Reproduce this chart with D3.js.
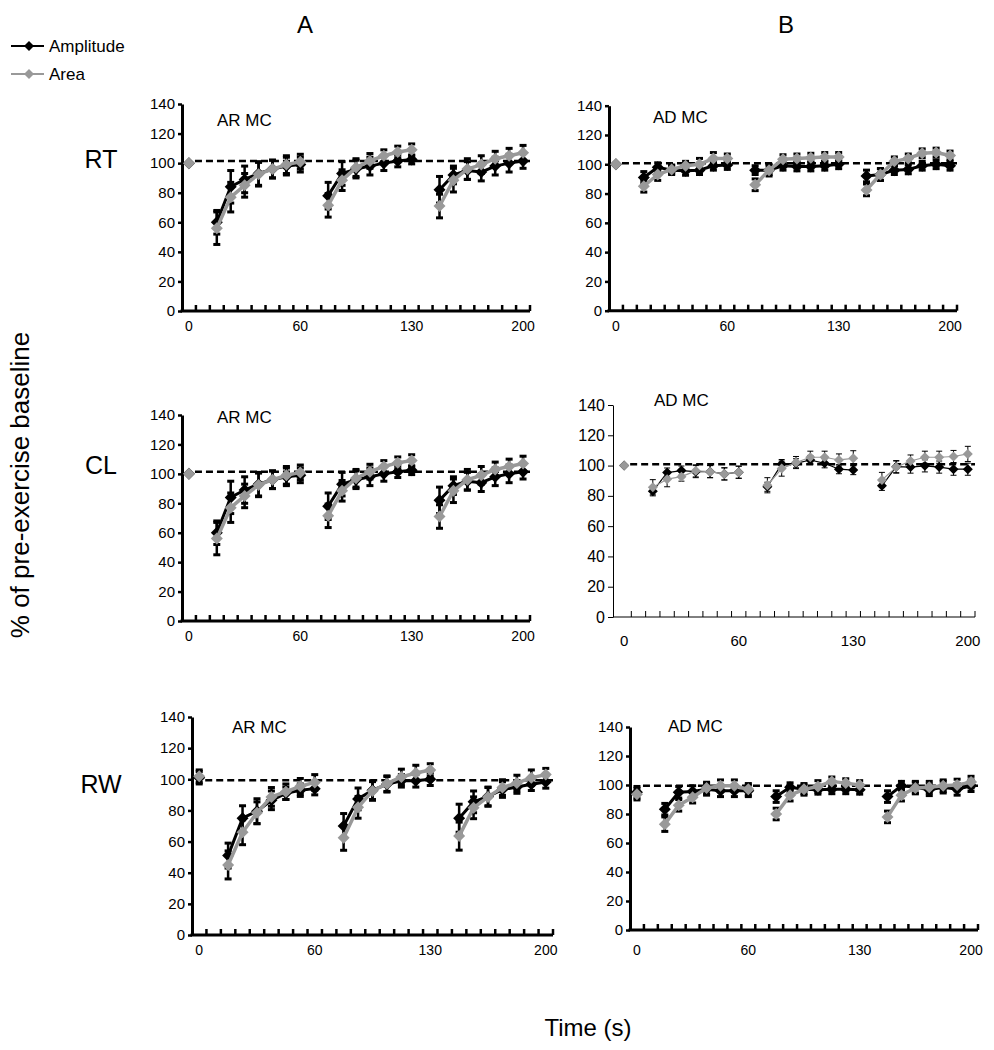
<!DOCTYPE html>
<html><head><meta charset="utf-8">
<script src="https://cdn.jsdelivr.net/npm/d3@7"></script>
<style>body{margin:0;background:#fff} svg{display:block} text{font-family:"Liberation Sans",Arial,sans-serif;fill:#000}</style>
</head><body><svg id="c" width="994" height="1050"></svg>
<script>
// ---------- data ----------
const timeLabels = ["0","","","","","","","","60","","","","","","","","130","","","","","","","","200"];
const yTicks = [0,20,40,60,80,100,120,140];
const seriesNames = ["Amplitude","Area"];
const panelTitles = ["AR MC","AD MC","AR MC","AD MC","AR MC","AD MC"];
const rowLabels = ["RT","CL","RW"];
const colLabels = ["A","B"];
const baselineRef = [101.5, 100.7, 101.5, 100.9, 99.4, 99.5];

// RT – AR MC
const rtArAmp     = [100,null, 60,84,89,93,96,98,99, null, 78,93,96,98,100,101.5,102.5, null, 82,92,95,94,98,100,101.5];
const rtArAmpErr  = [0,null, 8,11,9,8,6,6,5, null, 9,8,6,6,5,4,3, null, 9,6,6,6,6,6,5];
const rtArArea    = [100,null, 56,77,85,92.5,96,99,101, null, 71.5,88.5,97,101.5,105,107.5,109, null, 71,88.5,96,99,103,105,107];
const rtArAreaErr = [0,null, 11,10,8,8,6,6,5, null, 8,7,6,5,4,4,4, null, 8,8,7,6,5,5,5];
// RT – AD MC
const rtAdAmp     = [100,null, 91,98,96,95.5,96,99,99.5, null, 96,96,99,98.5,98.5,99,100, null, 92,93,96,96.5,99,100,99];
const rtAdAmpErr  = [0,null, 4,3,3,3,3,3,3, null, 3,3,3,3,3,3,3, null, 4,4,3,3,3,3,3];
const rtAdArea    = [100,null, 85,93,96.5,99,100,104,104, null, 86,96,103.5,104,104.5,105,105, null, 82.5,93,102,104,107.5,108,106];
const rtAdAreaErr = [0,null, 4,4,3,3,4,4,3, null, 4,4,3,3,3,3,3, null, 4,4,3,3,3,3,3];
// CL – AR MC
const clArAmp     = [100,null, 60,84,89,93,96,98,99, null, 78,93,96,98,100,101.5,102.5, null, 82,92,95,94,98,100,101.5];
const clArAmpErr  = [0,null, 8,11,9,8,6,6,5, null, 9,8,6,6,5,4,3, null, 9,6,6,6,6,6,5];
const clArArea    = [100,null, 56,77,85,92.5,96,99,101, null, 71.5,88.5,97,101.5,105,107.5,109, null, 71,88.5,96,99,103,105,107];
const clArAreaErr = [0,null, 11,10,8,8,6,6,5, null, 8,7,6,5,4,4,4, null, 8,8,7,6,5,5,5];
// CL – AD MC
const clAdAmp     = [100,null, 83,95.4,96.7,96,96,94.5,95.6, null, 86,101,101.5,103.7,101.5,97.6,97, null, 86.6,99.3,99,99.8,99,97.6,97.6];
const clAdAmpErr  = [0,null, 3,3,3,4,4,4,4, null, 3,3,3,3,3,3,3, null, 3,4,4,4,4,4,4];
const clAdArea    = [100,null, 85.7,91,92.7,96.5,96,94.5,95.6, null, 87,98,102,105.5,105.5,103.7,104.8, null, 90.5,99,103,105.5,105.5,106,107.7];
const clAdAreaErr = [0,null, 5,5,3,4,4,4,4, null, 5,5,4,4,4,4,5, null, 5,4,4,4,4,4,5];
// RW – AR MC
const rwArAmp     = [101,null, 51,75,79.5,86.5,91,93,94, null, 70,87.4,93,96.8,99,99,100, null, 75,85.5,89,93.4,95,96.8,98.3];
const rwArAmpErr  = [4,null, 8,8,8,6,4,4,4, null, 8,7,6,5,4,4,4, null, 9,7,6,5,4,4,4];
const rwArArea    = [102,null, 45,66,78.5,88.7,92,95.5,98, null, 62.4,82,92.5,97.2,101.5,104,106, null, 63.5,81.7,88.7,94.7,97.6,101,103];
const rwArAreaErr = [4,null, 9,8,7,6,5,5,5, null, 8,7,6,5,5,5,4, null, 9,7,6,5,5,5,4];
// RW – AD MC
const rwAdAmp     = [95,null, 83.3,95,95.5,97,96,96,96, null, 92,98.5,97,96.7,97,97,96.7, null, 92,99.5,98.5,96.7,98.5,97,99.5];
const rwAdAmpErr  = [4,null, 4,4,4,4,4,4,4, null, 4,3,3,3,3,3,3, null, 4,3,4,4,4,4,4];
const rwAdArea    = [93.7,null, 73,86,91.6,97.9,99.5,99.5,97, null, 80,93,97,99,102.5,101.3,100, null, 78,93,97.9,98.5,99.5,100,102];
const rwAdAreaErr = [4,null, 5,4,4,4,4,4,4, null, 4,4,4,4,3,3,3, null, 4,4,4,4,4,4,4];

const panelData = [
  [rtArAmp, rtArAmpErr, rtArArea, rtArAreaErr],
  [rtAdAmp, rtAdAmpErr, rtAdArea, rtAdAreaErr],
  [clArAmp, clArAmpErr, clArArea, clArAreaErr],
  [clAdAmp, clAdAmpErr, clAdArea, clAdAreaErr],
  [rwArAmp, rwArAmpErr, rwArArea, rwArAreaErr],
  [rwAdAmp, rwAdAmpErr, rwAdArea, rwAdAreaErr]
];

// ---------- layout ----------
const layout = [
  {left:182, bandLeft:182, right:530, top:104, bottom:311, thin:false, tx:217, ty:126, lab:21},
  {left:609, bandLeft:609, right:957, top:105.7, bottom:310.7, thin:false, tx:653, ty:123, lab:21},
  {left:182, bandLeft:182, right:530, top:415, bottom:621, thin:false, tx:217, ty:423, lab:21},
  {left:613, bandLeft:617, right:975, top:405, bottom:617, thin:true, tx:654, ty:406, lab:29},
  {left:192, bandLeft:192, right:553, top:717, bottom:935, thin:false, tx:232, ty:733, lab:21},
  {left:630, bandLeft:630, right:978, top:727, bottom:930, thin:false, tx:668, ty:732, lab:26}
];
const BLACK = "#000", GREY = "#999";

const svg = d3.select("#c");

function diamond(r){ return `M0,${-r}L${r},0L0,${r}L${-r},0Z`; }

layout.forEach((L, p) => {
  const [amp, ampErr, area, areaErr] = panelData[p];
  const g = svg.append("g");
  const x = d3.scaleBand().domain(d3.range(timeLabels.length)).range([L.bandLeft, L.right]).padding(0);
  const y = d3.scaleLinear().domain([0, 140]).range([L.bottom, L.top]);
  const cx = i => x(i) + x.bandwidth() / 2;
  const axW = L.thin ? 1 : 3;

  // y axis
  const ya = g.append("g").attr("transform", `translate(${L.left},0)`)
    .call(d3.axisLeft(y).tickValues(yTicks).tickSize(L.thin ? 5 : 4).tickSizeOuter(0).tickPadding(3));
  ya.select(".domain").attr("stroke-width", axW).attr("stroke", "#000");
  ya.selectAll(".tick line").attr("stroke-width", L.thin ? 1 : 2.5).attr("stroke", "#000");
  ya.selectAll("text").attr("font-size", L.thin ? 16 : 15).attr("font-family", "Liberation Sans, Arial, sans-serif").attr("fill", "#000");

  // x axis line + ticks at band boundaries
  g.append("line").attr("x1", L.left - (L.thin ? 0 : 1.5)).attr("x2", L.right)
    .attr("y1", L.bottom).attr("y2", L.bottom).attr("stroke", "#000").attr("stroke-width", axW);
  const bounds = d3.range(1, timeLabels.length + 1).map(i => L.bandLeft + i * x.step());
  g.selectAll(".xt").data(bounds).join("line")
    .attr("x1", d => d).attr("x2", d => d)
    .attr("y1", L.bottom).attr("y2", L.bottom - 6)
    .attr("stroke", "#000").attr("stroke-width", L.thin ? 1 : 2.5);

  // x labels
  const xa = g.append("g").attr("transform", `translate(0,${L.bottom})`)
    .call(d3.axisBottom(x).tickValues(d3.range(timeLabels.length).filter(i => timeLabels[i] !== ""))
      .tickFormat(i => timeLabels[i]).tickSize(0).tickPadding(L.lab - 11));
  xa.select(".domain").remove();
  xa.selectAll("text").attr("font-size", L.thin ? 15 : 14).attr("font-family", "Liberation Sans, Arial, sans-serif").attr("fill", "#000");

  // dashed reference
  g.append("line").attr("x1", cx(0) + 6).attr("x2", L.right)
    .attr("y1", y(baselineRef[p])).attr("y2", y(baselineRef[p]))
    .attr("stroke", "#000").attr("stroke-width", 2.5).attr("stroke-dasharray", "7,4");

  // title
  g.append("text").attr("x", L.tx).attr("y", L.ty).attr("font-size", 17).text(panelTitles[p]);

  const series = [
    {vals: amp, err: ampErr, color: BLACK},
    {vals: area, err: areaErr, color: GREY}
  ];
  const line = d3.line().defined(d => d.v != null).x(d => cx(d.i)).y(d => y(d.v));
  const eW = L.thin ? 1 : 2.5, capW = L.thin ? 3 : 3.5;

  series.forEach((s, si) => {
    const pts = s.vals.map((v, i) => ({i, v, e: s.err[i]}));
    const withErr = pts.filter(d => d.v != null && d.e > 0);
    const eb = g.append("g");
    eb.selectAll(".ev").data(withErr).join("line")
      .attr("x1", d => cx(d.i)).attr("x2", d => cx(d.i))
      .attr("y1", d => y(d.v - d.e)).attr("y2", d => y(d.v + d.e))
      .attr("stroke", "#000").attr("stroke-width", eW);
    eb.selectAll(".cu").data(withErr).join("line")
      .attr("x1", d => cx(d.i) - capW).attr("x2", d => cx(d.i) + capW)
      .attr("y1", d => y(d.v + d.e)).attr("y2", d => y(d.v + d.e))
      .attr("stroke", "#000").attr("stroke-width", L.thin ? 1 : 3);
    eb.selectAll(".cd").data(withErr).join("line")
      .attr("x1", d => cx(d.i) - capW).attr("x2", d => cx(d.i) + capW)
      .attr("y1", d => y(d.v - d.e)).attr("y2", d => y(d.v - d.e))
      .attr("stroke", "#000").attr("stroke-width", L.thin ? 1 : 3);
    g.append("path").datum(pts).attr("d", line).attr("fill", "none")
      .attr("stroke", s.color).attr("stroke-width", L.thin ? 1.2 : (si ? 3.5 : 3))
      .attr("stroke-linejoin", "round");
    g.selectAll(".m" + si).data(pts.filter(d => d.v != null)).join("path")
      .attr("d", diamond(L.thin ? 5 : 6))
      .attr("transform", d => `translate(${cx(d.i)},${y(d.v)})`)
      .attr("fill", s.color);
  });
});

// column / row labels
[305, 786].forEach((xx, i) => svg.append("text").attr("x", xx).attr("y", 33).attr("text-anchor", "middle").attr("font-size", 24).text(colLabels[i]));
[168, 474, 793].forEach((yy, i) => svg.append("text").attr("x", 101).attr("y", yy).attr("text-anchor", "middle").attr("font-size", 25).text(rowLabels[i]));

// axis titles
svg.append("text").attr("transform", "translate(29,485) rotate(-90)").attr("text-anchor", "middle").attr("font-size", 26).text("% of pre-exercise baseline");
svg.append("text").attr("x", 588).attr("y", 1036).attr("text-anchor", "middle").attr("font-size", 24).text("Time (s)");

// legend
[46, 74].forEach((yy, i) => {
  const col = i ? GREY : BLACK;
  svg.append("line").attr("x1", 11).attr("x2", 44).attr("y1", yy).attr("y2", yy).attr("stroke", col).attr("stroke-width", 2);
  svg.append("path").attr("d", diamond(5)).attr("transform", `translate(29,${yy})`).attr("fill", col);
  svg.append("text").attr("x", 49).attr("y", yy + 6).attr("font-size", 17).text(seriesNames[i]);
});
</script></body></html>
